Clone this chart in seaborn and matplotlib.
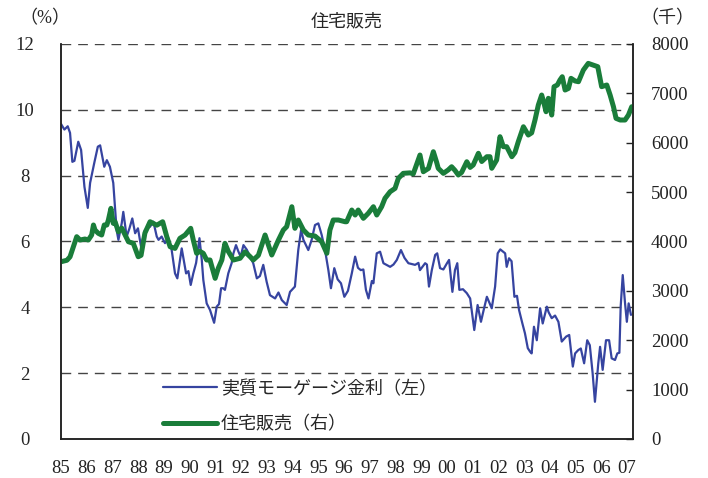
import matplotlib
matplotlib.use("Agg")
import matplotlib.pyplot as plt
import seaborn as sns
import pandas as pd

sns.set_style("white")
plt.rcParams['font.family'] = ['Liberation Serif', 'Noto Sans CJK JP', 'DejaVu Sans']

# real mortgage rate (left axis, %)
rate_year = [1985.00, 1985.13, 1985.26, 1985.35, 1985.44, 1985.52, 1985.67, 1985.78, 1985.91, 1986.04,
             1986.13, 1986.29, 1986.43, 1986.52, 1986.68, 1986.78, 1986.90, 1987.03, 1987.16, 1987.23,
             1987.36, 1987.42, 1987.55, 1987.66, 1987.77, 1987.88, 1987.99, 1988.11, 1988.26, 1988.46,
             1988.59, 1988.72, 1988.79, 1988.91, 1989.04, 1989.17, 1989.30, 1989.43, 1989.52, 1989.69,
             1989.86, 1989.95, 1990.04, 1990.14, 1990.25, 1990.38, 1990.47, 1990.53, 1990.66, 1990.79,
             1990.95, 1991.05, 1991.14, 1991.22, 1991.30, 1991.37, 1991.50, 1991.63, 1991.70, 1991.80,
             1991.89, 1991.98, 1992.09, 1992.22, 1992.35, 1992.47, 1992.61, 1992.73, 1992.86, 1992.99,
             1993.12, 1993.32, 1993.45, 1993.58, 1993.77, 1993.90, 1994.09, 1994.22, 1994.33, 1994.42,
             1994.61, 1994.74, 1994.87, 1995.00, 1995.13, 1995.26, 1995.39, 1995.49, 1995.62, 1995.75,
             1995.88, 1996.01, 1996.15, 1996.30, 1996.43, 1996.54, 1996.65, 1996.75, 1996.85, 1996.95,
             1997.08, 1997.14, 1997.27, 1997.40, 1997.53, 1997.79, 1997.92, 1998.05, 1998.21, 1998.35,
             1998.50, 1998.76, 1998.89, 1998.95, 1999.15, 1999.22, 1999.30, 1999.41, 1999.54, 1999.62,
             1999.73, 1999.86, 2000.00, 2000.08, 2000.21, 2000.31, 2000.40, 2000.48, 2000.62, 2000.77,
             2000.90, 2001.06, 2001.19, 2001.32, 2001.42, 2001.55, 2001.74, 2001.87, 2001.97, 2002.07,
             2002.26, 2002.32, 2002.41, 2002.51, 2002.62, 2002.72, 2002.80, 2002.93, 2003.03, 2003.14,
             2003.23, 2003.29, 2003.38, 2003.49, 2003.62, 2003.72, 2003.88, 2003.95, 2004.07, 2004.20,
             2004.33, 2004.46, 2004.63, 2004.75, 2004.89, 2004.98, 2005.10, 2005.20, 2005.33, 2005.45,
             2005.55, 2005.66, 2005.75, 2005.88, 2005.95, 2006.05, 2006.18, 2006.30, 2006.40, 2006.53,
             2006.62, 2006.70, 2006.75, 2006.83, 2006.92, 2006.99, 2007.06, 2007.15]
rate = [9.57, 9.40, 9.50, 9.30, 8.42, 8.45, 9.03, 8.78, 7.66, 7.02,
        7.78, 8.38, 8.88, 8.92, 8.27, 8.47, 8.27, 7.78, 6.35, 6.05,
        6.56, 6.90, 6.15, 6.40, 6.70, 6.25, 6.40, 5.84, 6.35, 6.45,
        6.60, 6.15, 6.05, 6.15, 5.95, 6.10, 5.74, 5.03, 4.88, 5.79,
        5.03, 5.10, 4.68, 5.03, 5.35, 6.10, 5.44, 4.83, 4.12, 3.92,
        3.53, 4.02, 4.10, 4.58, 4.58, 4.53, 5.03, 5.34, 5.64, 5.89,
        5.70, 5.54, 5.89, 5.75, 5.54, 5.34, 4.88, 4.95, 5.29, 4.78,
        4.37, 4.27, 4.45, 4.22, 4.07, 4.47, 4.63, 5.74, 6.35, 6.05,
        5.74, 6.05, 6.50, 6.55, 6.20, 5.74, 5.13, 4.58, 5.19, 4.85,
        4.73, 4.32, 4.50, 5.03, 5.54, 5.20, 5.13, 5.15, 4.53, 4.27,
        4.80, 4.73, 5.64, 5.69, 5.34, 5.23, 5.30, 5.44, 5.74, 5.50,
        5.34, 5.29, 5.35, 5.13, 5.34, 5.30, 4.63, 5.13, 5.59, 5.64,
        5.19, 5.15, 5.34, 5.44, 4.47, 5.13, 5.34, 4.53, 4.55, 4.43,
        4.27, 3.31, 4.07, 3.56, 3.90, 4.32, 3.97, 4.63, 5.64, 5.76,
        5.64, 5.23, 5.49, 5.40, 4.32, 4.35, 3.92, 3.51, 3.21, 2.76,
        2.65, 2.60, 3.41, 3.00, 3.97, 3.51, 4.02, 3.85, 3.67, 3.75,
        3.56, 2.96, 3.11, 3.16, 2.20, 2.60, 2.70, 2.75, 2.30, 3.00,
        2.85, 2.00, 1.13, 2.30, 2.80, 2.10, 3.00, 3.00, 2.45, 2.40,
        2.60, 2.62, 4.02, 4.98, 4.12, 3.56, 4.12, 3.77]

# home sales (right axis, thousands)
sales_year = [1985.00, 1985.23, 1985.35, 1985.48, 1985.61, 1985.74, 1985.93, 1986.06, 1986.19, 1986.26,
              1986.32, 1986.45, 1986.58, 1986.68, 1986.78, 1986.84, 1986.94, 1987.03, 1987.10, 1987.23,
              1987.36, 1987.49, 1987.62, 1987.81, 1988.00, 1988.11, 1988.26, 1988.46, 1988.72, 1988.95,
              1989.11, 1989.24, 1989.43, 1989.62, 1989.82, 1990.04, 1990.14, 1990.27, 1990.40, 1990.53,
              1990.66, 1990.79, 1990.99, 1991.11, 1991.25, 1991.37, 1991.50, 1991.70, 1991.96, 1992.15,
              1992.35, 1992.47, 1992.67, 1992.93, 1993.19, 1993.45, 1993.64, 1993.77, 1993.97, 1994.09,
              1994.22, 1994.42, 1994.61, 1994.87, 1995.13, 1995.33, 1995.45, 1995.58, 1995.78, 1996.04,
              1996.10, 1996.30, 1996.43, 1996.55, 1996.75, 1996.94, 1997.14, 1997.27, 1997.46, 1997.59,
              1997.79, 1997.98, 1998.11, 1998.30, 1998.56, 1998.69, 1998.95, 1999.08, 1999.28, 1999.47,
              1999.60, 1999.66, 1999.86, 2000.05, 2000.18, 2000.31, 2000.44, 2000.57, 2000.77, 2000.90,
              2001.02, 2001.22, 2001.35, 2001.55, 2001.67, 2001.74, 2001.93, 2002.06, 2002.19, 2002.32,
              2002.52, 2002.64, 2002.77, 2002.97, 2003.16, 2003.29, 2003.42, 2003.55, 2003.68, 2003.77,
              2003.85, 2003.94, 2004.07, 2004.16, 2004.29, 2004.39, 2004.48, 2004.59, 2004.72, 2004.82,
              2004.98, 2005.11, 2005.30, 2005.49, 2005.69, 2005.86, 2006.01, 2006.21, 2006.34, 2006.47,
              2006.57, 2006.73, 2006.92, 2007.05, 2007.18]
sales = [3590, 3620, 3690, 3894, 4097, 4030, 4050, 4030, 4131, 4334,
         4232, 4165, 4131, 4334, 4334, 4435, 4671, 4368, 4400, 4198,
         4270, 4131, 3995, 3962, 3691, 3720, 4171, 4400, 4330, 4400,
         4097, 3894, 3860, 4064, 4131, 4267, 4030, 3760, 3800, 3760,
         3625, 3625, 3254, 3457, 3625, 3963, 3800, 3625, 3660, 3790,
         3692, 3625, 3720, 4131, 3726, 4030, 4232, 4300, 4704, 4267,
         4435, 4232, 4131, 4110, 3995, 3760, 4232, 4435, 4435, 4400,
         4400, 4637, 4536, 4637, 4469, 4570, 4704, 4536, 4704, 4874,
         5008, 5075, 5279, 5380, 5390, 5370, 5751, 5413, 5480, 5818,
         5600, 5482, 5380, 5450, 5514, 5440, 5346, 5400, 5615, 5500,
         5550, 5786, 5620, 5717, 5717, 5482, 5650, 6122, 5920, 5920,
         5717, 5800, 6020, 6324, 6156, 6200, 6460, 6764, 6966, 6800,
         6628, 6900, 6561, 7135, 7170, 7270, 7337, 7067, 7100, 7304,
         7250, 7236, 7472, 7607, 7570, 7540, 7135, 7169, 6966, 6729,
         6494, 6460, 6460, 6560, 6729]

year_labels = ['85', '86', '87', '88', '89', '90', '91', '92', '93', '94', '95', '96',
               '97', '98', '99', '00', '01', '02', '03', '04', '05', '06', '07']

df_rate = pd.DataFrame({'year': rate_year, 'rate': rate})
df_sales = pd.DataFrame({'year': sales_year, 'sales': sales})

blue = '#3644a0'
green = '#1a7d3a'

fig = plt.figure(figsize=(7.08, 4.78), dpi=100)
ax = fig.add_axes([0.0862, 0.0816, 0.8079, 0.8264])
ax2 = ax.twinx()

sns.lineplot(x='year', y='rate', data=df_rate, ax=ax, color=blue, lw=1.6,
             label='実質モーゲージ金利（左）', legend=False)
sns.lineplot(x='year', y='sales', data=df_sales, ax=ax2, color=green, lw=3.6,
             label='住宅販売（右）', legend=False)

ax.set_xlim(1985, 2007.23)
ax.set_ylim(0, 12)
ax2.set_ylim(0, 8000)
ax.set_xlabel('')
ax.set_ylabel('')
ax2.set_ylabel('')

ax.set_xticks(range(1985, 2008))
ax.set_xticklabels(year_labels, fontsize=13.5)
ax.set_yticks([0, 2, 4, 6, 8, 10, 12])
ax.set_yticklabels(['0', '2', '4', '6', '8', '10', '12'], fontsize=13.5, ha='center')
ax2.set_yticks([0, 1000, 2000, 3000, 4000, 5000, 6000, 7000, 8000])
ax2.set_yticklabels(['0', '1000', '2000', '3000', '4000', '5000', '6000', '7000', '8000'], fontsize=13.5)

ax.tick_params(axis='x', direction='in', length=5, width=1, pad=15, colors='#222222')
ax.tick_params(axis='y', direction='in', length=0, pad=26)
ax2.tick_params(axis='y', direction='in', length=5, width=1, pad=13, colors='#222222')

for a in (ax, ax2):
    a.spines['top'].set_visible(False)
    for s in ('left', 'right', 'bottom'):
        a.spines[s].set_color('#222222')
        a.spines[s].set_linewidth(1.1)

ax.grid(False)
ax2.grid(False)
for v in [2, 4, 6, 8, 10, 12]:
    ax.axhline(v, color='#444444', lw=1.0, ls=(0, (7, 5)), zorder=0)

ax.set_title('住宅販売', fontsize=13, pad=13)
fig.text(0.028, 0.96, '（%）', fontsize=13, ha='left', va='center')
fig.text(0.905, 0.96, '（千）', fontsize=13, ha='left', va='center')

h1, l1 = ax.get_legend_handles_labels()
h2, l2 = ax2.get_legend_handles_labels()
ax2.legend(h1 + h2, l1 + l2, loc='center left', bbox_to_anchor=(0.178, 0.082),
           frameon=False, fontsize=13, handlelength=3.0, handletextpad=0.2,
           labelspacing=1.0, borderpad=0, borderaxespad=0)

fig.savefig('out.png', dpi=100)
